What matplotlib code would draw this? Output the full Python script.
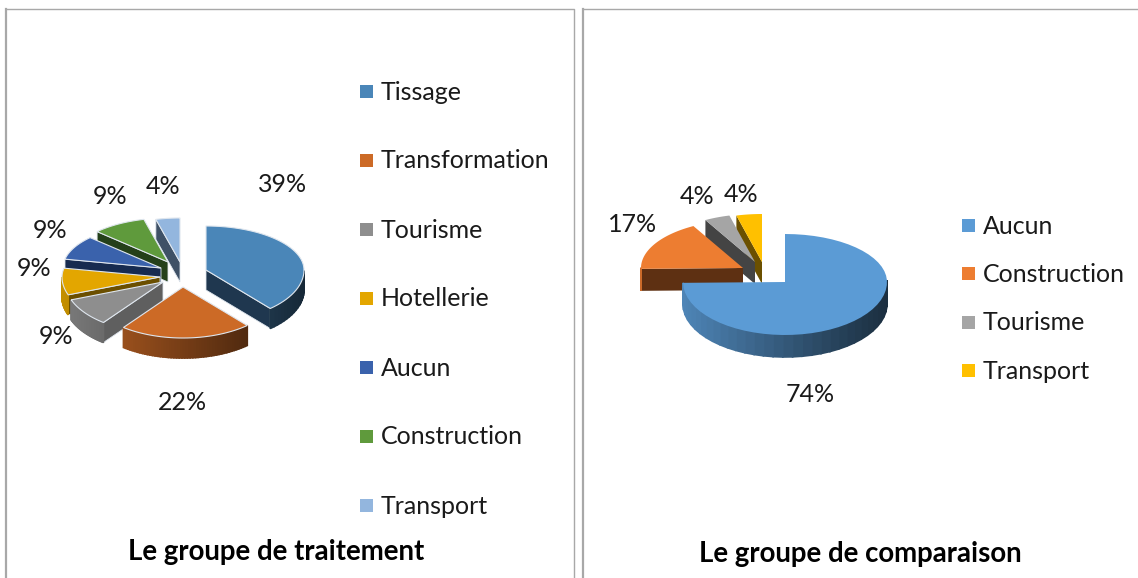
import numpy as np
import matplotlib
matplotlib.use("Agg")
import matplotlib.pyplot as plt
from matplotlib.colors import to_rgb
from matplotlib.patches import Polygon, Rectangle

plt.rcParams['font.family'] = ['Lato', 'DejaVu Sans']

# data
cats_left = ['Tissage', 'Transformation', 'Tourisme', 'Hotellerie', 'Aucun', 'Construction', 'Transport']
vals_left = [39, 22, 9, 9, 9, 9, 4]
title_left = 'Le groupe de traitement'

cats_right = ['Aucun', 'Construction', 'Tourisme', 'Transport']
vals_right = [74, 17, 4, 4]
title_right = 'Le groupe de comparaison'

# colours
top_left = ['#4a86b8', '#cc6a26', '#8e8e8e', '#e3a600', '#3a62ac', '#5f9a3c', '#93b6de']
side_left = ['#1f374f', '#5b2c0e', '#5f5f5f', '#6b4f00', '#172b50', '#24401a', '#3f5166']
top_right = ['#5b9bd5', '#ed7d31', '#a5a5a5', '#ffc000']
side_right = ['#1f3a55', '#5e3012', '#444444', '#6b5000']

# layout, in reference pixels
expl_left = [(18, -2), (-5, 15), (-25, 10), (-28, 5), (-27, -4), (-20, -10), (-8, -10)]
expl_right = [(0, 0), (-42, -14), (-30, -20), (-23, -20)]
lab_left = [(283, 185), (182, 403), (56, 337), (34, 268), (50, 230), (110, 196), (163, 187)]
lab_right = [(810, 394), (633, 224), (697, 196), (741, 194)]

fig = plt.figure(figsize=(11.38, 5.78), dpi=100)
ax = fig.add_axes([0, 0, 1, 1])
ax.set_xlim(0, 1138)
ax.set_ylim(578, 0)
ax.axis('off')


def shade(col, f):
    return tuple(c * f for c in to_rgb(col))


def pie3d(vals, tops, sides, expl, cx, cy, rx, ry_back, ry_front, depth, edge):
    vals = np.array(vals, dtype=float)
    bounds = np.concatenate([[0], np.cumsum(vals)]) / vals.sum() * 2 * np.pi

    # perspective: the near half of the ellipse is a bit taller
    def rim(tx, ty, a):
        c = np.cos(a)
        return tx + rx * np.sin(a), ty - np.where(c > 0, ry_back, ry_front) * c

    order = []
    for i in range(len(vals)):
        mid = (bounds[i] + bounds[i + 1]) / 2
        order.append((cy + expl[i][1] - ry_back * np.cos(mid), i))
    order.sort()  # back to front

    for _, i in order:
        a0, a1 = bounds[i], bounds[i + 1]
        tx, ty = cx + expl[i][0], cy + expl[i][1]
        ang = np.linspace(a0, a1, 50)
        xs, ys = rim(tx, ty, ang)
        # cut faces
        for a, n in ((a0, a0 - np.pi / 2), (a1, a1 + np.pi / 2)):
            if np.cos(n) < 0:
                ex, ey = rim(tx, ty, a)
                ax.add_patch(Polygon([(tx, ty), (ex, ey), (ex, ey + depth), (tx, ty + depth)],
                                     fc=sides[i], ec=edge, lw=0.6, zorder=2))
        # outer wall with a left to right gradient
        for j in range(len(ang) - 1):
            if np.cos((ang[j] + ang[j + 1]) / 2) < 0:
                f = 0.58 - 0.28 * np.sin(ang[j])
                ax.add_patch(Polygon([(xs[j], ys[j]), (xs[j + 1], ys[j + 1]),
                                      (xs[j + 1], ys[j + 1] + depth), (xs[j], ys[j] + depth)],
                                     fc=shade(tops[i], f), ec=shade(tops[i], f), lw=1.2, zorder=2))
        ax.add_patch(Polygon(np.column_stack([np.r_[tx, xs], np.r_[ty, ys]]),
                             fc=tops[i], ec=edge, lw=0.8, zorder=2))


def legend(cats, colors, x, y0, step):
    for i, (c, col) in enumerate(zip(cats, colors)):
        y = y0 + i * step
        ax.add_patch(Rectangle((x, y - 6), 13, 13, fc=col, ec='none'))
        ax.text(x + 21, y + 1, c, fontsize=18, va='center', ha='left', color='#1a1a1a')


# frames
for x in (6, 583):
    ax.plot([x, x], [578, 9], color='#a8a8a8', lw=1.6)
ax.plot([6, 574, 574], [9, 9, 578], color='#a8a8a8', lw=1)
ax.plot([583, 1138], [9, 9], color='#a8a8a8', lw=1)

pie3d(vals_left, top_left, side_left, expl_left, 188, 272, 98, 44, 51, 20, '#dfe6ee')
pie3d(vals_right, top_right, side_right, expl_right, 785, 282, 102, 48, 53, 22, 'none')

for (x, y), v in zip(lab_left, vals_left):
    ax.text(x, y, '%d%%' % v, fontsize=18, ha='center', va='center', color='#1a1a1a')
for (x, y), v in zip(lab_right, vals_right):
    ax.text(x, y, '%d%%' % v, fontsize=18, ha='center', va='center', color='#1a1a1a')

legend(cats_left, top_left, 360, 91, 69)
legend(cats_right, top_right, 962, 225, 48.4)

ax.text(276, 552, title_left, fontsize=19.9, fontweight='bold', ha='center', va='center', color='black')
ax.text(860, 554, title_right, fontsize=19.9, fontweight='bold', ha='center', va='center', color='black')

fig.savefig('out.png', dpi=100)
